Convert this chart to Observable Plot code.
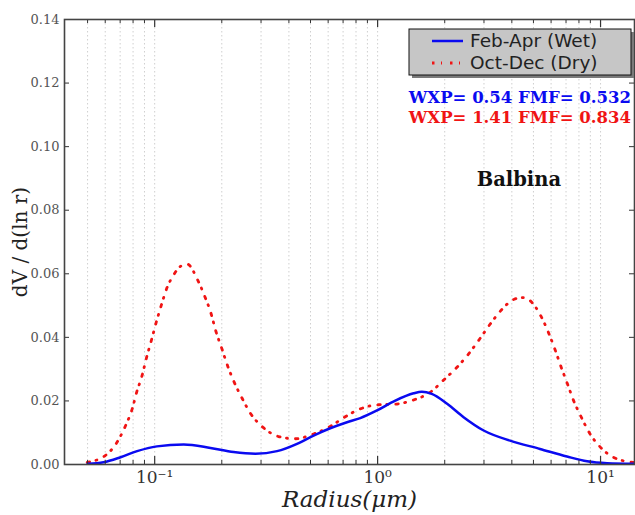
<!DOCTYPE html>
<html><head><meta charset="utf-8">
<script src="https://cdn.jsdelivr.net/npm/d3@7"></script>
<script src="https://cdn.jsdelivr.net/npm/@observablehq/plot@0.6"></script>
<style>html,body{margin:0;padding:0;background:#fff}svg{display:block}</style>
</head><body><div id="chart"></div>
<script>
// ---- data ----
const seriesNames = ["Feb-Apr (Wet)", "Oct-Dec (Dry)"];
const wetRadius = [0.05, 0.059, 0.0703, 0.0834, 0.1023, 0.135, 0.178, 0.226, 0.283, 0.354, 0.435, 0.516, 0.613, 0.729, 0.836, 0.994, 1.2, 1.45, 1.58, 1.75, 2.05, 2.43, 2.99, 3.93, 5.35, 7.07, 8.7, 10.7, 14.2];
const wetValue  = [0.0002, 0.0007, 0.0023, 0.0042, 0.0057, 0.0063, 0.0052, 0.0039, 0.0034, 0.0042, 0.0065, 0.0091, 0.0114, 0.0133, 0.0146, 0.017, 0.0201, 0.0224, 0.0229, 0.0222, 0.0191, 0.0149, 0.0107, 0.0075, 0.0049, 0.0025, 0.001, 0.0004, 0.0002];
const dryRadius = [0.0498, 0.06, 0.0678, 0.074, 0.0793, 0.083, 0.0878, 0.092, 0.0967, 0.1016, 0.1072, 0.113, 0.122, 0.131, 0.14, 0.156, 0.1675, 0.179, 0.188, 0.1998, 0.2125, 0.227, 0.246, 0.27, 0.306, 0.36, 0.427, 0.516, 0.603, 0.716, 0.836, 1.01, 1.2, 1.45, 1.72, 1.98, 2.27, 2.56, 2.87, 3.2, 3.59, 4.1, 4.49, 4.89, 5.42, 5.84, 6.26, 6.66, 7.11, 7.57, 8.17, 8.94, 10.0, 11.4, 14.2];
const dryValue  = [0.0007, 0.0028, 0.007, 0.0122, 0.0175, 0.0227, 0.028, 0.0337, 0.0391, 0.0447, 0.0502, 0.0552, 0.0598, 0.0624, 0.063, 0.058, 0.053, 0.0475, 0.042, 0.0366, 0.031, 0.026, 0.021, 0.0159, 0.0117, 0.0088, 0.0081, 0.0096, 0.0117, 0.015, 0.0175, 0.0188, 0.019, 0.0203, 0.0227, 0.0266, 0.0306, 0.0348, 0.0395, 0.0442, 0.0486, 0.052, 0.0525, 0.0512, 0.0465, 0.0415, 0.036, 0.0306, 0.0253, 0.0201, 0.0151, 0.0098, 0.0054, 0.0023, 0.0006];
const yTicks = [0, 0.02, 0.04, 0.06, 0.08, 0.10, 0.12, 0.14];
const xMajorTicks = [0.1, 1, 10];
const xMinorTicks = [0.05, 0.06, 0.07, 0.08, 0.09, 0.2, 0.3, 0.4, 0.5, 0.6, 0.7, 0.8, 0.9, 2, 3, 4, 5, 6, 7, 8, 9];
const xTickLabels = ["10\u207B\u00B9", "10\u2070", "10\u00B9"];
const annotations = ["WXP= 0.54 FMF= 0.532", "WXP= 1.41 FMF= 0.834"];
const siteName = "Balbina";
const siteRadius = 4.3, siteValue = 0.0895;
const xLabel = "Radius(\u03BCm)";
const yLabel = "dV / d(ln r)";
const seriesColors = ["#0a0af0", "#f01414"];

// ---- build ----
const wet = wetRadius.map((r, i) => ({r, v: wetValue[i]}));
const dry = dryRadius.map((r, i) => ({r, v: dryValue[i]}));
const W = 635, H = 515, mt = 19, mb = 51, ml = 64, mr = 1;
const iH = H - mt - mb, iW = W - ml - mr;
const dryDash = "2.5,6.5,1,8";
const tickLabelOf = new Map(xMajorTicks.map((t, i) => [t, xTickLabels[i]]));

const chart = Plot.plot({
  width: W, height: H,
  marginTop: mt, marginBottom: mb, marginLeft: ml, marginRight: mr,
  x: {type: "log", domain: [0.0394, 14.2]},
  y: {domain: [0, 0.14]},
  style: {fontFamily: "DejaVu Serif", background: "#fff", overflow: "visible"},
  marks: [
    Plot.ruleX(xMinorTicks.concat(xMajorTicks), {x: d => d, stroke: "#cfcfcf", strokeDasharray: "1.5,2.5", strokeWidth: 1}),
    Plot.line(dry, {x: "r", y: "v", curve: "monotone-x", stroke: seriesColors[1], strokeWidth: 2.8, strokeDasharray: dryDash}),
    Plot.line(wet, {x: "r", y: "v", curve: "monotone-x", stroke: seriesColors[0], strokeWidth: 2.5}),
    Plot.tickX(xMajorTicks, {x: d => d, insetTop: iH - 8, stroke: "#333", strokeWidth: 1.2}),
    Plot.tickX(xMinorTicks, {x: d => d, insetTop: iH - 4, stroke: "#333", strokeWidth: 1}),
    Plot.tickX(xMajorTicks, {x: d => d, insetBottom: iH - 8, stroke: "#333", strokeWidth: 1.2}),
    Plot.tickX(xMinorTicks, {x: d => d, insetBottom: iH - 4, stroke: "#333", strokeWidth: 1}),
    Plot.tickY(yTicks, {y: d => d, insetRight: iW - 5, stroke: "#333", strokeWidth: 1}),
    Plot.tickY(yTicks, {y: d => d, insetLeft: iW - 5, stroke: "#333", strokeWidth: 1}),
    Plot.frame({stroke: "#444", strokeWidth: 1.6}),
    Plot.axisX(xMajorTicks, {tickSize: 0, tickPadding: 6, tickFormat: d => tickLabelOf.get(d), fontSize: 17, fill: "#333", label: null}),
    Plot.axisY(yTicks, {tickSize: 0, tickPadding: 5, tickFormat: d => d.toFixed(2), fontSize: 13, fill: "#555", label: null}),
    Plot.text([xLabel], {frameAnchor: "bottom", lineAnchor: "middle", dy: 35, fontSize: 23, fontStyle: "italic", fill: "#222"}),
    Plot.text([yLabel], {frameAnchor: "left", textAnchor: "middle", dx: -44, rotate: -90, fontSize: 20, fill: "#222"}),
    Plot.text([siteName], {x: () => siteRadius, y: () => siteValue, fontSize: 19.5, fontWeight: "bold", fill: "#111"})
  ]
});

// annotations and legend
const svg = d3.select(chart);
const ann = svg.append("g").attr("font-family", "DejaVu Serif").attr("font-weight", "bold").attr("font-size", 16.5).attr("text-anchor", "end");
annotations.forEach((t, i) => {
  ann.append("text").attr("x", 631).attr("y", 103 + i * 20).attr("fill", seriesColors[i]).text(t);
});
const lg = svg.append("g").attr("text-anchor", "start");
lg.append("rect").attr("x", 412).attr("y", 32).attr("width", 222).attr("height", 46).attr("fill", "#7a7a7a");
lg.append("rect").attr("x", 409).attr("y", 29).attr("width", 222).attr("height", 46).attr("fill", "#c6c6c6").attr("stroke", "#111").attr("stroke-width", 1);
seriesNames.forEach((name, i) => {
  const y = 41 + i * 22;
  lg.append("line").attr("x1", 432).attr("x2", 463).attr("y1", y).attr("y2", y)
    .attr("stroke", seriesColors[i]).attr("stroke-width", i ? 2.8 : 2.5)
    .attr("stroke-dasharray", i ? dryDash : null);
  lg.append("text").attr("x", 470).attr("y", y + 6).attr("font-family", "DejaVu Sans").attr("font-size", 18.5).attr("fill", "#222").text(name);
});
document.getElementById("chart").appendChild(chart);
</script>
</body></html>
